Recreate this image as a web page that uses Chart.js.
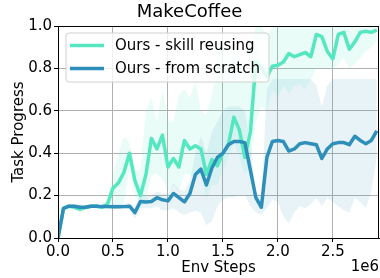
<!DOCTYPE html>
<html>
<head>
<meta charset="utf-8">
<script src="https://cdn.jsdelivr.net/npm/chart.js@4/dist/chart.umd.min.js"></script>
<style>
  html, body { margin: 0; padding: 0; background: #fff; }
  #wrap { width: 380px; height: 278px; position: relative; }
</style>
</head>
<body>
<div id="wrap"><canvas id="c" width="380" height="278"></canvas></div>
<script>
const title = "MakeCoffee";
const xLabel = "Env Steps";
const yLabel = "Task Progress";
const xExponent = "1e6";
const seriesNames = ["Ours - skill reusing", "Ours - from scratch"];

// Env steps (in units of 1e6)
const steps = [0.00,0.05,0.10,0.15,0.20,0.25,0.30,0.35,0.40,0.45,
               0.50,0.55,0.60,0.65,0.70,0.75,0.80,0.85,0.90,0.95,
               1.00,1.05,1.10,1.15,1.20,1.25,1.30,1.35,1.40,1.45,
               1.50,1.55,1.60,1.65,1.70,1.75,1.80,1.85,1.90,1.95,
               2.00,2.05,2.10,2.15,2.20,2.25,2.30,2.35,2.40,2.45,
               2.50,2.55,2.60,2.65,2.70,2.75,2.80,2.85,2.90];

const skillMean = [0.00,0.14,0.15,0.145,0.135,0.145,0.15,0.15,0.145,0.16,
                   0.235,0.26,0.31,0.40,0.27,0.20,0.30,0.47,0.42,0.485,
                   0.335,0.375,0.335,0.46,0.42,0.435,0.42,0.30,0.37,0.34,
                   0.40,0.44,0.57,0.51,0.38,0.50,0.83,0.80,0.76,0.81,
                   0.815,0.83,0.87,0.855,0.865,0.875,0.855,0.96,0.95,0.88,
                   0.845,0.96,0.97,0.89,0.925,0.97,0.975,0.97,0.98];
const skillUpper = [0.00,0.15,0.16,0.155,0.145,0.155,0.16,0.16,0.155,0.18,
                    0.30,0.40,0.48,0.45,0.32,0.32,0.60,0.66,0.55,0.70,
                    0.55,0.55,0.68,0.70,0.66,0.74,0.60,0.58,0.68,0.80,
                    0.95,0.85,0.88,0.85,0.75,0.90,1.00,1.00,0.95,1.00,
                    1.00,1.00,1.00,1.00,1.00,1.00,1.00,1.00,1.00,1.00,
                    1.00,1.00,1.00,1.00,1.00,1.00,1.00,1.00,1.00];
const skillLower = [0.00,0.13,0.14,0.135,0.125,0.135,0.14,0.14,0.135,0.145,
                    0.16,0.15,0.16,0.33,0.20,0.15,0.17,0.30,0.30,0.28,
                    0.22,0.25,0.22,0.30,0.30,0.28,0.30,0.18,0.25,0.25,
                    0.32,0.38,0.45,0.38,0.30,0.35,0.55,0.62,0.60,0.70,
                    0.66,0.72,0.68,0.72,0.72,0.70,0.75,0.80,0.80,0.80,
                    0.80,0.82,0.85,0.80,0.82,0.85,0.88,0.90,0.93];

const scratchMean = [0.00,0.14,0.15,0.15,0.145,0.145,0.15,0.15,0.148,0.148,
                     0.147,0.147,0.148,0.15,0.12,0.172,0.17,0.172,0.19,0.18,
                     0.175,0.21,0.19,0.17,0.21,0.30,0.325,0.25,0.33,0.38,
                     0.40,0.44,0.455,0.455,0.45,0.32,0.19,0.145,0.38,0.455,
                     0.46,0.455,0.41,0.42,0.445,0.45,0.445,0.44,0.375,0.42,
                     0.445,0.45,0.45,0.44,0.48,0.46,0.445,0.46,0.505];
const scratchUpper = [0.00,0.15,0.16,0.16,0.155,0.155,0.16,0.16,0.158,0.158,
                      0.16,0.16,0.16,0.165,0.15,0.20,0.20,0.20,0.22,0.21,
                      0.21,0.26,0.23,0.22,0.27,0.40,0.48,0.40,0.50,0.55,
                      0.60,0.62,0.62,0.62,0.60,0.45,0.22,0.20,0.70,0.75,
                      0.75,0.75,0.75,0.75,0.75,0.75,0.75,0.72,0.62,0.72,
                      0.75,0.75,0.75,0.75,0.75,0.75,0.75,0.75,0.75];
const scratchLower = [0.00,0.13,0.14,0.14,0.135,0.135,0.14,0.14,0.138,0.138,
                      0.137,0.137,0.138,0.14,0.09,0.14,0.14,0.14,0.15,0.13,
                      0.13,0.14,0.12,0.11,0.12,0.13,0.12,0.06,0.08,0.15,
                      0.18,0.19,0.19,0.20,0.20,0.15,0.12,0.11,0.14,0.18,
                      0.17,0.10,0.07,0.12,0.15,0.14,0.16,0.19,0.15,0.19,
                      0.17,0.15,0.13,0.12,0.19,0.17,0.14,0.22,0.38];

const xTickStep = 0.5;
const yTickStep = 0.2;

const TEAL = "rgb(85,232,192)";
const TEAL_BAND = "rgba(85,232,192,0.13)";
const BLUE = "rgb(46,143,187)";
const BLUE_BAND = "rgba(46,143,187,0.11)";
const FONT = "'DejaVu Sans', sans-serif";

const pts = arr => steps.map((x, i) => ({x: x, y: arr[i]}));

const frame = {
  id: 'frame',
  afterDraw(chart) {
    const {ctx, chartArea: a} = chart;
    ctx.save();
    ctx.strokeStyle = '#000';
    ctx.lineWidth = 1;
    ctx.strokeRect(Math.round(a.left) + 0.5, Math.round(a.top) + 0.5,
                   Math.round(a.right - a.left) - 1, Math.round(a.bottom - a.top));
    // legend
    const bx = 66, by = 33, bw = 203, bh = 49, r = 3;
    ctx.beginPath();
    ctx.moveTo(bx + r, by);
    ctx.lineTo(bx + bw - r, by); ctx.arcTo(bx + bw, by, bx + bw, by + r, r);
    ctx.lineTo(bx + bw, by + bh - r); ctx.arcTo(bx + bw, by + bh, bx + bw - r, by + bh, r);
    ctx.lineTo(bx + r, by + bh); ctx.arcTo(bx, by + bh, bx, by + bh - r, r);
    ctx.lineTo(bx, by + r); ctx.arcTo(bx, by, bx + r, by, r);
    ctx.closePath();
    ctx.fillStyle = 'rgba(255,255,255,0.8)';
    ctx.fill();
    ctx.strokeStyle = '#d0d0d0';
    ctx.lineWidth = 1;
    ctx.stroke();
    const rows = [[seriesNames[0], TEAL, 45.5], [seriesNames[1], BLUE, 68.5]];
    ctx.font = "15px " + FONT;
    ctx.textBaseline = 'middle';
    ctx.textAlign = 'left';
    rows.forEach(([label, color, y]) => {
      ctx.beginPath();
      ctx.strokeStyle = color;
      ctx.lineWidth = 3.5;
      ctx.moveTo(70, y); ctx.lineTo(104, y);
      ctx.stroke();
      ctx.fillStyle = '#000';
      ctx.fillText(label, 115, y + 1);
    });
    // exponent
    ctx.textAlign = 'right';
    ctx.fillText(xExponent, 379, 267);
    ctx.restore();
  }
};

new Chart(document.getElementById('c'), {
  type: 'line',
  data: {
    datasets: [
      { label: seriesNames[1], data: pts(scratchMean), borderColor: BLUE, borderWidth: 3.5,
        pointRadius: 0, tension: 0, fill: false, order: 0, borderJoinStyle: 'round' },
      { label: seriesNames[0], data: pts(skillMean), borderColor: TEAL, borderWidth: 3.5,
        pointRadius: 0, tension: 0, fill: false, order: 1, borderJoinStyle: 'round' },
      { label: 'scratch lower', data: pts(scratchLower), borderWidth: 0, borderColor: 'rgba(0,0,0,0)',
        pointRadius: 0, fill: false, order: 3 },
      { label: 'scratch upper', data: pts(scratchUpper), borderWidth: 0, borderColor: 'rgba(0,0,0,0)',
        pointRadius: 0, fill: 2, backgroundColor: BLUE_BAND, order: 3 },
      { label: 'skill lower', data: pts(skillLower), borderWidth: 0, borderColor: 'rgba(0,0,0,0)',
        pointRadius: 0, fill: false, order: 2 },
      { label: 'skill upper', data: pts(skillUpper), borderWidth: 0, borderColor: 'rgba(0,0,0,0)',
        pointRadius: 0, fill: 4, backgroundColor: TEAL_BAND, order: 2 }
    ]
  },
  options: {
    responsive: false,
    animation: false,
    layout: { padding: { left: 0, right: 1, top: 0, bottom: 0 } },
    plugins: {
      legend: { display: false },
      tooltip: { enabled: false },
      title: { display: true, text: title, color: '#000',
               font: { family: FONT, size: 18, weight: 'normal' },
               padding: { top: 2, bottom: 2.4 } }
    },
    scales: {
      x: {
        type: 'linear', min: 0, max: 2.92,
        afterFit(s) { s.height = 40; },
        ticks: { stepSize: xTickStep, includeBounds: false, color: '#000', padding: 1,
                 maxRotation: 0, autoSkip: false,
                 font: { family: FONT, size: 15 },
                 callback: v => Number(v).toFixed(1) },
        grid: { color: '#b0b0b0', lineWidth: 1, tickColor: '#000', tickLength: 4 },
        border: { color: '#000', width: 1 },
        title: { display: true, text: xLabel, color: '#000', font: { family: FONT, size: 15 },
                 padding: { top: 0, bottom: 1 } }
      },
      y: {
        min: 0, max: 1,
        afterFit(s) { s.width = 58; },
        ticks: { stepSize: yTickStep, color: '#000', padding: 2,
                 font: { family: FONT, size: 15 },
                 callback: v => Number(v).toFixed(1) },
        grid: { color: '#b0b0b0', lineWidth: 1, tickColor: '#000', tickLength: 4 },
        border: { color: '#000', width: 1 },
        title: { display: true, text: yLabel, color: '#000', font: { family: FONT, size: 15 },
                 padding: { top: 10, bottom: 0 } }
      }
    }
  },
  plugins: [frame]
});
</script>
</body>
</html>
